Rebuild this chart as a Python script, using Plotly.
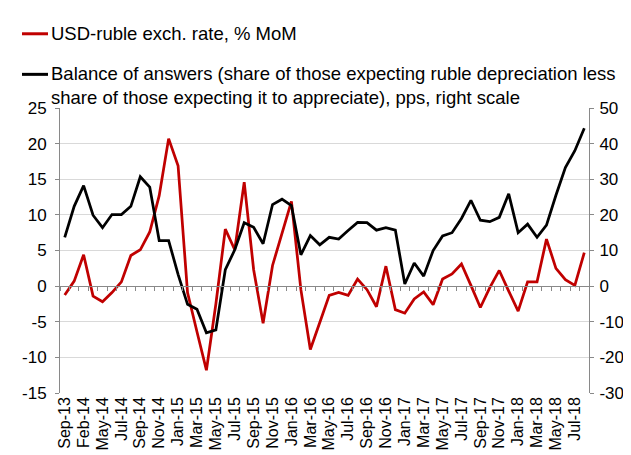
import plotly.graph_objects as go

# ---- data ----
months = ["Sep-13", "Dec-13", "Feb-14", "Apr-14", "May-14", "Jun-14", "Jul-14", "Aug-14",
          "Sep-14", "Oct-14", "Nov-14", "Dec-14", "Jan-15", "Feb-15", "Mar-15", "Apr-15",
          "May-15", "Jun-15", "Jul-15", "Aug-15", "Sep-15", "Oct-15", "Nov-15", "Dec-15",
          "Jan-16", "Feb-16", "Mar-16", "Apr-16", "May-16", "Jun-16", "Jul-16", "Aug-16",
          "Sep-16", "Oct-16", "Nov-16", "Dec-16", "Jan-17", "Feb-17", "Mar-17", "Apr-17",
          "May-17", "Jun-17", "Jul-17", "Aug-17", "Sep-17", "Oct-17", "Nov-17", "Dec-17",
          "Jan-18", "Feb-18", "Mar-18", "Apr-18", "May-18", "Jun-18", "Jul-18", "Aug-18"]

usd_rub_mom = [-1.25, 0.7, 4.4, -1.4, -2.2, -0.9, 0.6, 4.3, 5.1, 7.6,
               12.7, 20.7, 16.9, -0.9, -6.4, -11.8, -2.5, 8.0, 5.1, 14.6,
               2.3, -5.2, 2.9, 7.4, 11.9, -0.5, -8.9, -5.1, -1.3, -0.9,
               -1.3, 1.0, -0.5, -2.9, 2.8, -3.3, -3.8, -1.8, -0.8, -2.6,
               1.0, 1.7, 3.1, 0.1, -3.0, -0.2, 2.2, -0.7, -3.5, 0.6,
               0.6, 6.6, 2.5, 0.9, 0.1, 4.7]

balance = [13.7, 22.4, 28.2, 19.9, 16.4, 20.1, 20.1, 22.4, 30.7, 27.8,
           12.8, 12.8, 3.3, -5.1, -6.5, -13.1, -12.3, 4.6, 10.2, 17.8,
           16.5, 11.9, 22.9, 24.4, 22.6, 8.8, 14.2, 11.6, 13.7, 13.2,
           15.6, 17.9, 17.8, 15.7, 16.4, 15.7, 0.6, 6.5, 2.8, 10.0,
           14.1, 15.0, 19.0, 24.1, 18.5, 18.1, 19.3, 25.9, 15.0, 17.4,
           13.7, 17.1, 25.5, 33.3, 38.0, 44.3]

left_ticks = [-15, -10, -5, 0, 5, 10, 15, 20, 25]
right_ticks = [-30, -20, -10, 0, 10, 20, 30, 40, 50]

name_red = "USD-ruble exch. rate, % MoM"
name_black = ("Balance of answers (share of those expecting ruble depreciation less<br>"
              "share of those expecting it to appreciate), pps, right scale")

idx = list(range(len(months)))
tick_idx = idx[::2]
tick_txt = months[::2]

RED = "#C00000"
GRAY = "#898989"
GRID = "#D9D9D9"
FONT = "Arial, Liberation Sans, sans-serif"

W, H = 631, 455
L, R, T, B = 52, 50, 100, 67


def px_x(p):
    return (p - L) / (W - L - R)


def px_y(p):
    return (H - B - p) / (H - T - B)


fig = go.Figure()
fig.add_trace(go.Scatter(x=idx, y=usd_rub_mom, mode="lines", name=name_red,
                         line=dict(color=RED, width=2.75), showlegend=False,
                         xaxis="x", yaxis="y"))
fig.add_trace(go.Scatter(x=idx, y=balance, mode="lines", name=name_black,
                         line=dict(color="#000000", width=2.75), showlegend=False,
                         xaxis="x", yaxis="y2"))
# carrier for the zero-line category axis
fig.add_trace(go.Scatter(x=[], y=[], xaxis="x2", yaxis="y", showlegend=False,
                         hoverinfo="skip"))

xr = [-0.5, len(months) - 0.5]

fig.update_layout(
    width=W, height=H, autosize=False,
    margin=dict(l=L, r=R, t=T, b=B, pad=0),
    paper_bgcolor="white", plot_bgcolor="white",
    font=dict(family=FONT, color="#000000", size=16),
    xaxis=dict(range=xr, tickmode="array", tickvals=tick_idx, ticktext=tick_txt,
               tickangle=-90, ticks="", showgrid=False, zeroline=False,
               showline=False, tickfont=dict(size=16, family=FONT)),
    xaxis2=dict(range=xr, overlaying="x", anchor="free", position=0.375,
                tickmode="linear", tick0=-0.5, dtick=1, ticks="outside",
                ticklen=4, tickcolor=GRAY, showline=True, linecolor=GRAY,
                linewidth=1, showticklabels=False, showgrid=False, zeroline=False),
    yaxis=dict(range=[-15, 25], tickmode="array", tickvals=left_ticks,
               ticktext=[str(v) for v in left_ticks], ticks="outside", ticklen=4,
               tickcolor=GRAY, showline=True, linecolor=GRAY, linewidth=1,
               gridcolor=GRID, gridwidth=1, zeroline=False, ticklabelstandoff=5,
               tickfont=dict(size=17, family=FONT)),
    yaxis2=dict(range=[-30, 50], tickmode="array", tickvals=right_ticks,
                ticktext=[str(v) for v in right_ticks], overlaying="y", side="right",
                ticks="outside", ticklen=4, tickcolor=GRAY, showline=True,
                linecolor=GRAY, linewidth=1, showgrid=False, zeroline=False,
                ticklabelstandoff=2, tickfont=dict(size=17, family=FONT)),
)

# custom legend
legend_items = [
    (RED, name_red, 25, 25),
    ("#000000", name_black, 66, 77),
]
for color, text, line_y, text_y in legend_items:
    fig.add_shape(type="line", xref="paper", yref="paper",
                  x0=px_x(14), x1=px_x(40), y0=px_y(line_y), y1=px_y(line_y),
                  line=dict(color=color, width=3))
    fig.add_annotation(xref="paper", yref="paper", x=px_x(41), y=px_y(text_y),
                       text=text, showarrow=False, xanchor="left", yanchor="middle",
                       align="left", font=dict(size=18.5, family=FONT, color="#000000"))

fig.write_html("out.html")
